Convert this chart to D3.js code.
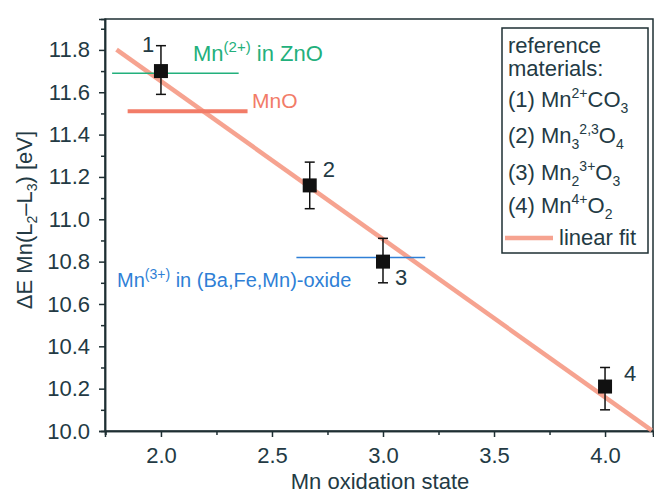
<!DOCTYPE html>
<html>
<head>
<meta charset="utf-8">
<script src="https://cdn.jsdelivr.net/npm/d3@7"></script>
<style>
  body { margin: 0; background: #fff; }
  text { font-family: "Liberation Sans", Arial, sans-serif; }
</style>
</head>
<body>
<div id="chart"></div>
<script>
// reference materials: oxidation state, dE, error
var labels = ['1', '2', '3', '4']
var oxState = [2.0, 2.67, 3.0, 4.0]
var deltaE = [11.70, 11.16, 10.80, 10.21]
var errLo = [11.59, 11.05, 10.70, 10.10]
var errHi = [11.82, 11.27, 10.91, 10.30]

// sample reference lines
var refNames = ['zno', 'mno', 'oxide']
var refValues = [11.69, 11.51, 10.82]
var refFrom = [1.78, 1.85, 2.61]
var refTo = [2.35, 2.39, 3.19]

var xTicks = [2.0, 2.5, 3.0, 3.5, 4.0]
var yTicks = [10.0, 10.2, 10.4, 10.6, 10.8, 11.0, 11.2, 11.4, 11.6, 11.8]
var fitRange = [1.8, 4.21]

var width = 654, height = 494
var margin = {left: 105, top: 19, right: 1, bottom: 63}

var svg = d3.select('#chart').append('svg')
  .attr('width', width).attr('height', height)

var x = d3.scaleLinear().domain([1.748, 4.216]).range([margin.left, width - margin.right])
var y = d3.scaleLinear().domain([10.0, 11.946]).range([height - margin.bottom, margin.top])

var axisColor = '#1e2f33'
var textColor = '#233a44'
var fitColor = '#f4937c'

// linear fit (least squares)
var mx = d3.mean(oxState), my = d3.mean(deltaE)
var sxy = d3.sum(oxState, (d, i) => (d - mx)*(deltaE[i] - my))
var sxx = d3.sum(oxState, d => (d - mx)*(d - mx))
var slope = sxy/sxx, icpt = my - slope*mx
var fit = x0 => icpt + slope*x0

// frame
svg.append('rect')
  .attr('x', x.range()[0]).attr('y', y.range()[1])
  .attr('width', x.range()[1] - x.range()[0])
  .attr('height', y.range()[0] - y.range()[1])
  .attr('fill', 'none').attr('stroke', axisColor).attr('stroke-width', 1.5)

// axes
var xAxis = svg.append('g')
  .attr('transform', `translate(0,${y(10.0)})`)
  .call(d3.axisBottom(x).tickValues(xTicks).tickFormat(d3.format('.1f')).tickSize(6).tickPadding(10))
var xMinor = svg.append('g')
  .attr('transform', `translate(0,${y(10.0)})`)
  .call(d3.axisBottom(x).tickValues([1.75, 2.25, 2.75, 3.25, 3.75]).tickFormat('').tickSize(4))
var yAxis = svg.append('g')
  .attr('transform', `translate(${x.range()[0]},0)`)
  .call(d3.axisLeft(y).tickValues(yTicks).tickFormat(d3.format('.1f')).tickSize(6).tickPadding(9))
var yMinor = svg.append('g')
  .attr('transform', `translate(${x.range()[0]},0)`)
  .call(d3.axisLeft(y).tickValues(d3.range(10.1, 11.95, 0.2)).tickFormat('').tickSize(4))

;[xAxis, xMinor, yAxis, yMinor].forEach(g => {
  g.select('.domain').attr('stroke', axisColor).attr('stroke-width', 1.5)
  g.selectAll('line').attr('stroke', axisColor).attr('stroke-width', 1.5)
  g.selectAll('text').attr('fill', textColor).style('font-size', '22px')
    .style('font-family', '"Liberation Sans", Arial, sans-serif')
})

// axis titles
svg.append('text')
  .attr('x', 380).attr('y', 489)
  .attr('text-anchor', 'middle').attr('fill', textColor).style('font-size', '22px')
  .text('Mn oxidation state')

var yt = svg.append('text')
  .attr('transform', `translate(32,${220}) rotate(-90)`)
  .attr('text-anchor', 'middle').attr('fill', textColor).style('font-size', '22px')
yt.append('tspan').text('ΔE Mn(L')
yt.append('tspan').attr('dy', 5).style('font-size', '14px').text('2')
yt.append('tspan').attr('dy', -5).text('–L')
yt.append('tspan').attr('dy', 5).style('font-size', '14px').text('3')
yt.append('tspan').attr('dy', -5).text(') [eV]')

// fit line
svg.append('line')
  .attr('x1', x(fitRange[0])).attr('y1', y(fit(fitRange[0])))
  .attr('x2', x(fitRange[1])).attr('y2', y(fit(fitRange[1])))
  .attr('stroke', fitColor).attr('stroke-width', 4.5).attr('stroke-opacity', 0.85)

// reference lines
var refColors = {zno: '#22b07c', mno: '#f27c68', oxide: '#2f7fd6'}
var refWidths = {zno: 1.5, mno: 4, oxide: 1.5}
refNames.forEach((k, i) => {
  svg.append('line')
    .attr('x1', x(refFrom[i])).attr('x2', x(refTo[i]))
    .attr('y1', y(refValues[i])).attr('y2', y(refValues[i]))
    .attr('stroke', refColors[k]).attr('stroke-width', refWidths[k])
})

var t1 = svg.append('text').attr('x', 193).attr('y', 61)
  .attr('fill', refColors.zno).style('font-size', '22px')
t1.append('tspan').text('Mn')
t1.append('tspan').attr('dy', -9).style('font-size', '15px').text('(2+)')
t1.append('tspan').attr('dy', 9).text(' in ZnO')

svg.append('text').attr('x', 252).attr('y', 108)
  .attr('fill', refColors.mno).style('font-size', '21px').text('MnO')

var t3 = svg.append('text').attr('x', 117).attr('y', 287)
  .attr('fill', refColors.oxide).style('font-size', '20px')
t3.append('tspan').text('Mn')
t3.append('tspan').attr('dy', -8).style('font-size', '14px').text('(3+)')
t3.append('tspan').attr('dy', 8).text(' in (Ba,Fe,Mn)-oxide')

// error bars + markers
var pts = oxState.map((d, i) => ({x: d, y: deltaE[i], lo: errLo[i], hi: errHi[i], label: labels[i]}))
var pg = svg.append('g').selectAll('g').data(pts).join('g')
pg.append('line')
  .attr('x1', d => x(d.x)).attr('x2', d => x(d.x))
  .attr('y1', d => y(d.lo)).attr('y2', d => y(d.hi))
  .attr('stroke', '#111').attr('stroke-width', 1.5)
;['lo', 'hi'].forEach(k => {
  pg.append('line')
    .attr('x1', d => x(d.x) - 5).attr('x2', d => x(d.x) + 5)
    .attr('y1', d => y(d[k])).attr('y2', d => y(d[k]))
    .attr('stroke', '#111').attr('stroke-width', 1.5)
})
pg.append('rect')
  .attr('x', d => x(d.x) - 7).attr('y', d => y(d.y) - 7)
  .attr('width', 14).attr('height', 14).attr('fill', '#111')

var labelOff = [[-19, -19], [13, -8], [12, 23], [19, -6]]
pg.append('text')
  .attr('x', (d, i) => x(d.x) + labelOff[i][0])
  .attr('y', (d, i) => y(d.y) + labelOff[i][1])
  .attr('fill', textColor).style('font-size', '22px')
  .text(d => d.label)

// legend
var lg = svg.append('g')
lg.append('rect').attr('x', 502).attr('y', 28).attr('width', 146).attr('height', 225)
  .attr('fill', '#fff').attr('stroke', axisColor).attr('stroke-width', 1.5)

function legendLine(yy, parts){
  var t = lg.append('text').attr('x', 508).attr('y', yy)
    .attr('fill', textColor).style('font-size', '22px')
  parts.forEach(p => {
    var s = t.append('tspan').text(p[0])
    if (p[1] == 'sup') s.attr('dy', -9).style('font-size', '14px')
    if (p[1] == 'sub') s.attr('dy', 6).style('font-size', '14px')
    if (p[1] == 'back') s.attr('dy', 9)
    if (p[1] == 'subsup') s.attr('dy', -15).style('font-size', '14px')
  })
}
legendLine(53, [['reference']])
legendLine(76, [['materials:']])
legendLine(107, [['(1) Mn'], ['2+', 'sup'], ['CO', 'back'], ['3', 'sub']])
legendLine(143, [['(2) Mn'], ['3', 'sub'], ['2,3', 'subsup'], ['O', 'back'], ['4', 'sub']])
legendLine(180, [['(3) Mn'], ['2', 'sub'], ['3+', 'subsup'], ['O', 'back'], ['3', 'sub']])
legendLine(213, [['(4) Mn'], ['4+', 'sup'], ['O', 'back'], ['2', 'sub']])
lg.append('line').attr('x1', 505).attr('x2', 553).attr('y1', 238).attr('y2', 238)
  .attr('stroke', fitColor).attr('stroke-width', 4.5).attr('stroke-opacity', 0.85)
lg.append('text').attr('x', 559).attr('y', 245)
  .attr('fill', textColor).style('font-size', '22px').text('linear fit')
</script>
</body>
</html>
